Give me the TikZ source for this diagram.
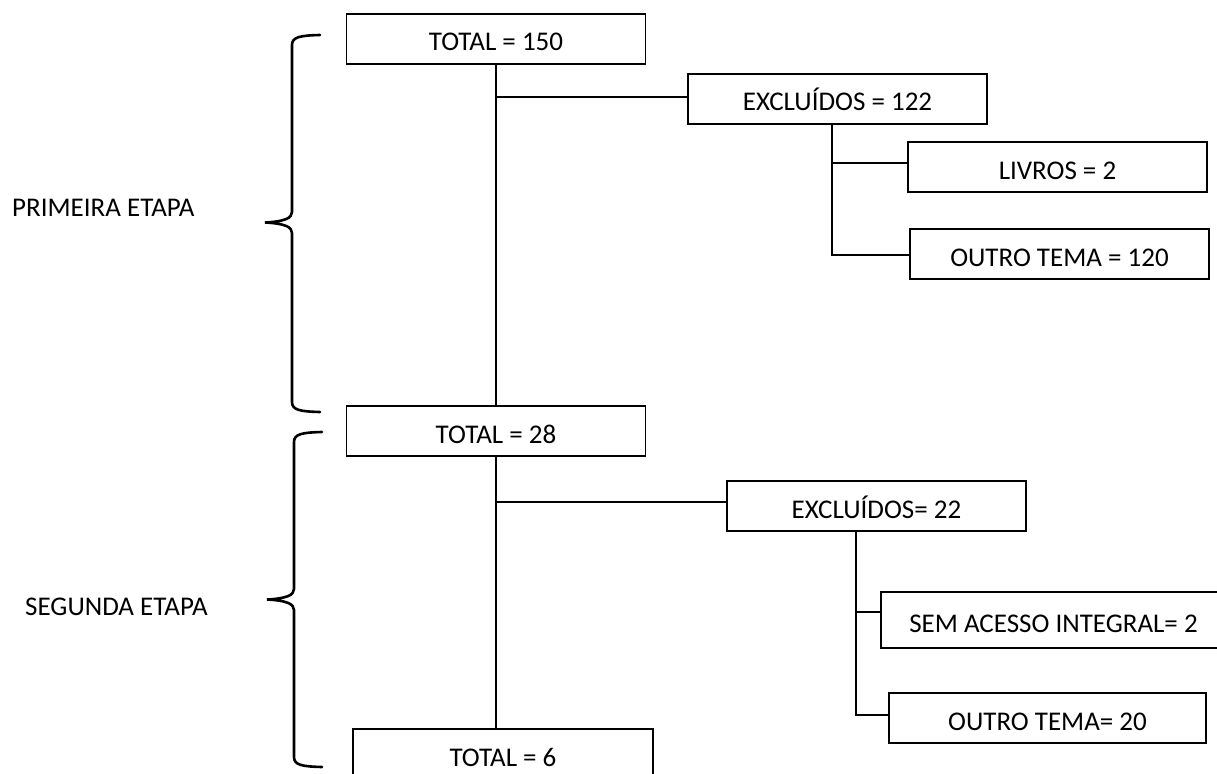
\documentclass[tikz,border=0pt]{standalone}
\usepackage{fontspec}
\setmainfont{Carlito}
\begin{document}
\begin{tikzpicture}[x=1pt,y=-1pt,
  box/.style={draw, line width=1.9pt, inner sep=0pt, font=\fontsize{27}{31}\selectfont,
    text height=25pt, text depth=1pt, minimum height=50pt},
  conn/.style={line width=2.1pt},
  bracestroke/.style={line width=2.6pt, line cap=round},
  lbl/.style={inner sep=0pt, anchor=base west, font=\fontsize{27}{31}\selectfont}]
\clip (0,0) rectangle (1217,773);
\fill[white] (0,0) rectangle (1217,773);

% nodes
\node[box, minimum width=299pt] (tot1) at (496,39) {TOTAL = 150};
\node[box, minimum width=299pt] (exc1) at (837.5,99) {EXCLUÍDOS = 122};
\node[box, minimum width=299pt] (livros) at (1057.5,167) {LIVROS = 2};
\node[box, minimum width=299pt] (outro1) at (1059.5,254) {OUTRO TEMA = 120};
\node[box, minimum width=299pt] (tot2) at (496,431) {TOTAL = 28};
\node[box, minimum width=299pt] (exc2) at (876.5,506) {EXCLUÍDOS= 22};
\node[box, minimum width=345pt, minimum height=56pt] (sem) at (1053.5,620) {SEM ACESSO INTEGRAL= 2};
\node[box, minimum width=317pt] (outro2) at (1047.5,718) {OUTRO TEMA= 20};
\node[box, minimum width=300pt, minimum height=51pt] (tot3) at (503,754.5) {TOTAL = 6};

\node[lbl] (l1) at (12,216) {PRIMEIRA ETAPA};
\node[lbl] (l2) at (25,615) {SEGUNDA ETAPA};

% connectors
\draw[conn] (tot1.south) -- (tot1.south |- tot2.north);
\draw[conn] ([yshift=2pt]exc1.west) -| (tot1.south);
\draw[conn] ([xshift=-5.5pt]exc1.south) |- ([yshift=4pt]livros.west);
\draw[conn] ([xshift=-5.5pt]exc1.south) |- ([yshift=-1pt]outro1.west);

\draw[conn] (tot2.south) -- (tot2.south |- tot3.north);
\draw[conn] ([yshift=4pt]exc2.west) -| (tot2.south);
\draw[conn] ([xshift=-20.5pt]exc2.south) |- ([yshift=8pt]sem.west);
\draw[conn] ([xshift=-20.5pt]exc2.south) |- ([yshift=3pt]outro2.west);

% braces
\draw[bracestroke] (320,35) .. controls (300,35.5) and (292,37) .. (292,45) -- (292,212)
  .. controls (292,218) and (285,221.5) .. (265,222.5)
  .. controls (285,223.5) and (292,227) .. (292,233) -- (292,402)
  .. controls (292,410) and (300,411.5) .. (320,412);
\draw[bracestroke] (322,432) .. controls (302,432.5) and (294,434) .. (294,442) -- (294,589)
  .. controls (294,595) and (287,598.5) .. (267,599.5)
  .. controls (287,600.5) and (294,604) .. (294,610) -- (294,757)
  .. controls (294,765) and (302,766.5) .. (322,767);
\end{tikzpicture}
\end{document}
